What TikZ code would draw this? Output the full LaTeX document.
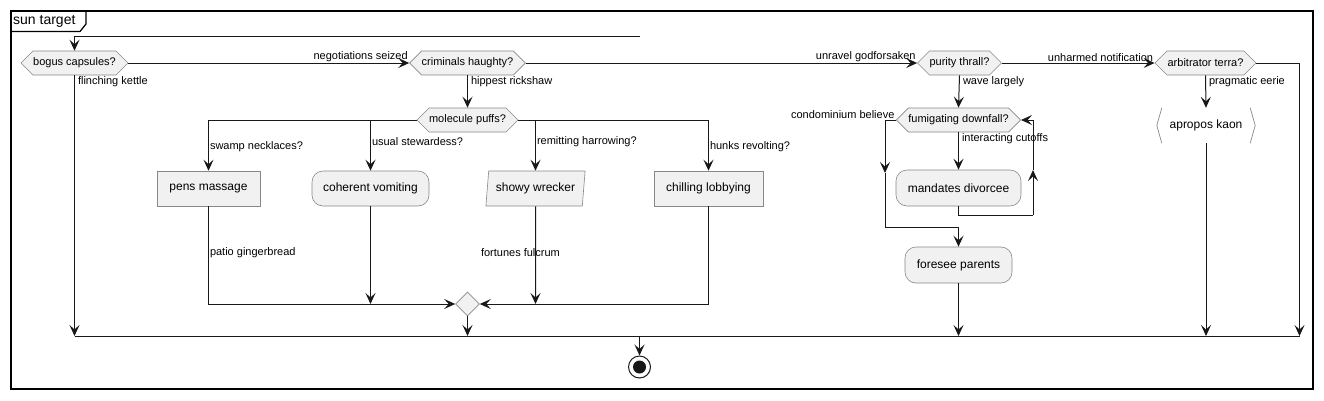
\documentclass[tikz,border=0pt]{standalone}
\usepackage{fontspec}
\setmainfont{Liberation Sans}
\usetikzlibrary{shapes.symbols,shapes.geometric,arrows.meta,calc}
\definecolor{nfill}{HTML}{F1F1F1}
\definecolor{nbord}{HTML}{888888}
\definecolor{lc}{HTML}{181818}
\begin{document}
\begin{tikzpicture}[x=1pt,y=-1pt,
  conn/.style={draw=lc, line width=1pt},
  arr/.style={conn, -{Stealth[length=11pt,width=10pt,inset=4.5pt]}},
  hexnode/.style={signal, signal to=east and west, signal from=nowhere, fill=nfill, draw=nbord,
    line width=0.6pt, minimum height=24pt, inner xsep=0pt, inner ysep=0pt, font=\fontsize{11}{13}\selectfont},
  boxnode/.style={rectangle, fill=nfill, draw=nbord, line width=0.6pt, minimum height=35pt,
    inner sep=0pt, font=\fontsize{12}{14}\selectfont},
  roundnode/.style={boxnode, rounded corners=11pt},
  paranode/.style={trapezium, trapezium left angle=78, trapezium right angle=102, trapezium stretches=true,
    fill=nfill, draw=nbord, line width=0.6pt, minimum height=35pt, inner sep=0pt, font=\fontsize{12}{14}\selectfont},
  lbl/.style={inner xsep=1pt, inner ysep=1pt, font=\fontsize{11}{13}\selectfont, text=black},
  mergenode/.style={diamond, fill=nfill, draw=nbord, line width=0.6pt, minimum size=24pt, inner sep=0pt},
]
\useasboundingbox (0,0) rectangle (1324,400);

% frame
\draw[line width=1.5pt, draw=black] (11,11) rectangle (1313,389);
\draw[line width=1.2pt, draw=black] (11,31.5) -- (80,31.5) -- (86,24) -- (86,11);
\node[anchor=west, inner sep=0pt, font=\fontsize{14}{16}\selectfont] (title) at (13,21) {sun target};

% nodes
\node[hexnode, minimum width=107pt] (bogus) at (74.5,63) {bogus capsules?};
\node[hexnode, minimum width=113pt] (crim) at (467.5,63) {criminals haughty?};
\node[hexnode, minimum width=83pt] (purity) at (959.5,63) {purity thrall?};
\node[hexnode, minimum width=101pt] (arb) at (1205.5,63) {arbitrator terra?};
\node[hexnode, minimum width=101pt] (mol) at (467.5,120) {molecule puffs?};
\node[hexnode, minimum width=123pt] (fum) at (958.5,120) {fumigating downfall?};

\node[boxnode, minimum width=103pt] (pens) at (208.5,188.5) {pens massage};
\node[roundnode, minimum width=117pt] (coh) at (370.5,188.5) {coherent vomiting};
\node[paranode, minimum width=100pt] (showy) at (535.5,188.5) {showy wrecker};
\node[boxnode, minimum width=109pt] (chill) at (708.5,188.5) {chilling lobbying};
\node[roundnode, minimum width=125pt, minimum height=36pt] (mand) at (958.5,188) {mandates divorcee};
\node[roundnode, minimum width=107pt, minimum height=36pt] (fore) at (958.5,265) {foresee parents};

\node[minimum width=98pt, minimum height=35pt, inner sep=0pt, font=\fontsize{12}{14}\selectfont] (apro) at (1206,125.5) {apropos kaon};
\draw[nbord, line width=0.7pt] ($(apro.north west)+(5,0)$) -- (apro.west) -- ($(apro.south west)+(5,0)$);
\draw[nbord, line width=0.7pt] ($(apro.north east)+(-5,0)$) -- (apro.east) -- ($(apro.south east)+(-5,0)$);

\node[mergenode] (merge) at (467.5,304) {};
\node[circle, draw=lc, line width=1pt, minimum size=22pt, inner sep=0pt] (end) at (639.5,367) {};
\fill[lc] (end.center) circle (6.5pt);

% coordinates
\coordinate (topS) at (640,36);
\coordinate (jL) at (74.5,336);
\coordinate (jR) at (1299.5,336);
\coordinate (jC) at (639.5,336);
\coordinate (jM) at (467.5,336);
\coordinate (jF) at (958.5,336);
\coordinate (jA) at (1206,336);
\coordinate (cohE) at (370.5,304);
\coordinate (shoE) at (535.5,304);
\coordinate (lB) at (885,173);
\coordinate (lC) at (885,227);
\coordinate (rA) at (1033,215);
\coordinate (rB) at (1033,170);

% connectors
\draw[arr] (topS) -| (bogus.north);
\draw[arr] (bogus.east) -- node[lbl, pos=1, anchor=south east]{negotiations seized} (crim.west);
\draw[arr] (bogus.south) -- node[lbl, pos=0, anchor=north west, xshift=2pt]{flinching kettle} (jL);
\draw[arr] (crim.south) -- node[lbl, pos=0, anchor=north west, xshift=2pt]{hippest rickshaw} (mol.north);
\draw[arr] (crim.east) -- node[lbl, pos=1, anchor=south east]{unravel godforsaken} (purity.west);
\draw[arr] (purity.east) -- node[lbl, pos=1, anchor=south east]{unharmed notification} (arb.west);
\draw[arr] (purity.south) -- node[lbl, pos=0, anchor=north west, xshift=2pt]{wave largely} (fum.north);
\draw[arr] (arb.east) -| (jR);
\draw[arr] (arb.south) -- node[lbl, pos=0, anchor=north west, xshift=2pt]{pragmatic eerie} (apro.north);
\draw[arr] (apro.south) -- (jA);

\draw[arr] (mol.west) -| node[lbl, pos=0.76, anchor=west]{swamp necklaces?} (pens.north);
\draw[arr] (mol.west) -| node[lbl, pos=0.715, anchor=west]{usual stewardess?} (coh.north);
\draw[arr] (mol.east) -| node[lbl, pos=0.715, anchor=west]{remitting harrowing?} (showy.north);
\draw[arr] (mol.east) -| node[lbl, pos=0.76, anchor=west]{hunks revolting?} (chill.north);

\draw[arr] (pens.south) |- node[lbl, pos=0.235, anchor=west]{patio gingerbread} (merge.west);
\draw[arr] (coh.south) -- (cohE);
\draw[arr] (showy.south) -- node[lbl, pos=0.47, anchor=west, xshift=-56pt]{fortunes fulcrum} (shoE);
\draw[arr] (chill.south) |- (merge.east);
\draw[arr] (merge.south) -- (jM);

\draw[conn] (jL) -- (jR);
\draw[arr] (jC) -- (end.north);

\draw[arr] (fum.west) -| node[lbl, pos=0, anchor=south east]{condominium believe} (lB);
\draw[conn] (lB) -- (lC);
\draw[arr] (lC) -| (fore.north);
\draw[arr] (fum.south) -- node[lbl, pos=0, anchor=north west, xshift=2pt]{interacting cutoffs} (mand.north);
\draw[conn] (mand.south) |- (rA);
\draw[arr] (rA) -- (rB);
\draw[arr] (rB) |- (fum.east);
\draw[arr] (fore.south) -- (jF);
\end{tikzpicture}
\end{document}
